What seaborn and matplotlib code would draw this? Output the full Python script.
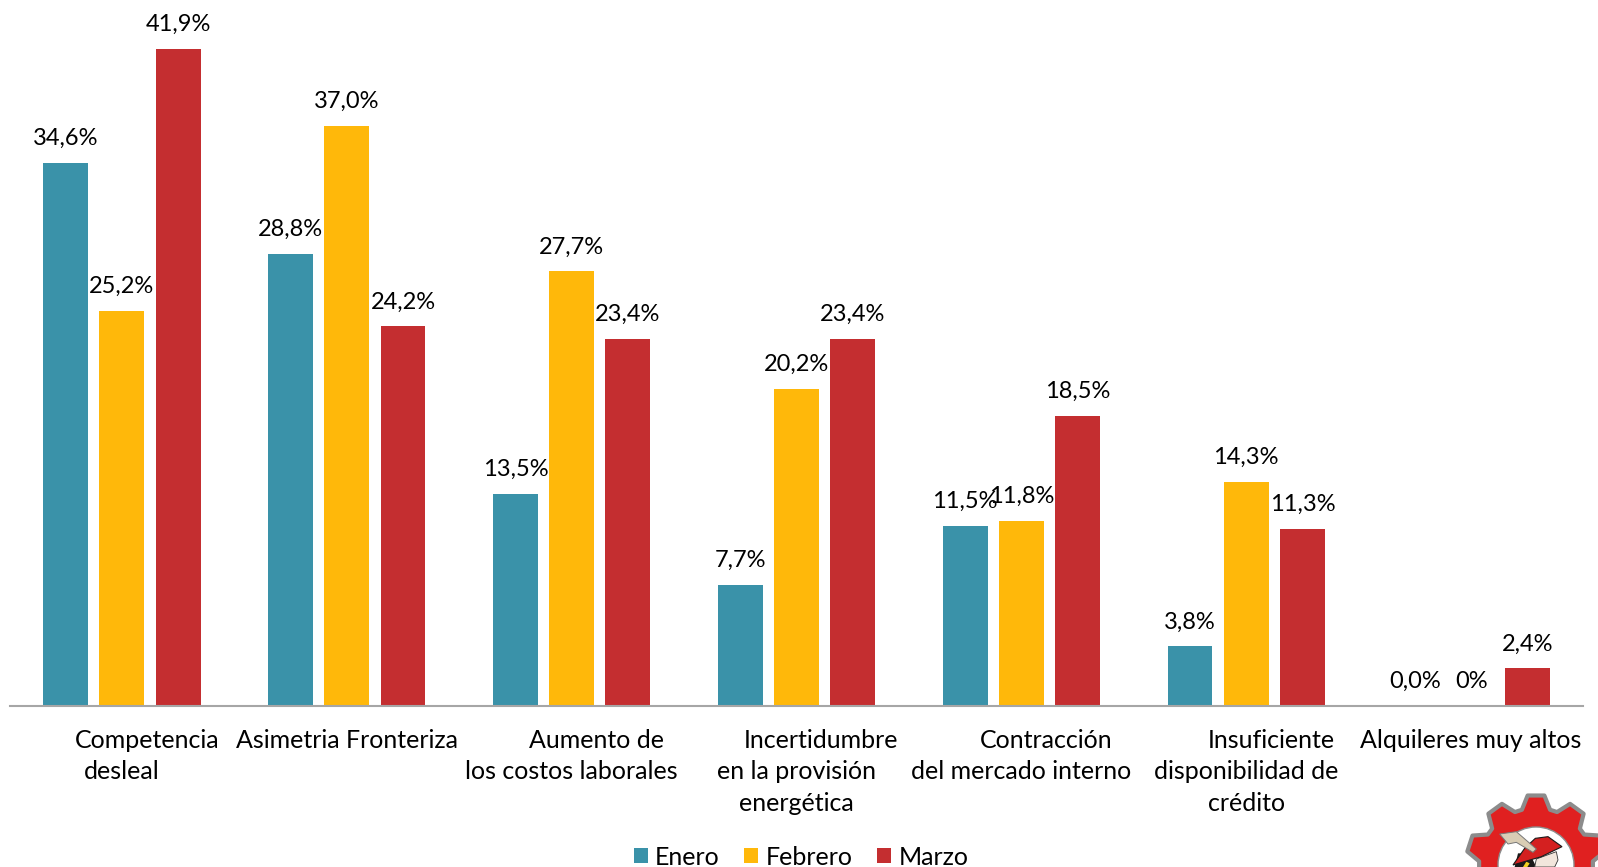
import matplotlib
matplotlib.use("Agg")
import matplotlib.pyplot as plt
import numpy as np
import pandas as pd
import seaborn as sns
from matplotlib.patches import Circle, Polygon

# Datos
categorias = ["Competencia desleal", "Asimetria Fronteriza", "Aumento de los costos laborales",
              "Incertidumbre en la provisión energética", "Contracción del mercado interno",
              "Insuficiente disponibilidad de crédito", "Alquileres muy altos"]
meses = ["Enero", "Febrero", "Marzo"]
enero = [34.6, 28.8, 13.5, 7.7, 11.5, 3.8, 0.0]
febrero = [25.2, 37.0, 27.7, 20.2, 11.8, 14.3, 0.0]
marzo = [41.9, 24.2, 23.4, 23.4, 18.5, 11.3, 2.4]
etiquetas_enero = ["34,6%", "28,8%", "13,5%", "7,7%", "11,5%", "3,8%", "0,0%"]
etiquetas_febrero = ["25,2%", "37,0%", "27,7%", "20,2%", "11,8%", "14,3%", "0%"]
etiquetas_marzo = ["41,9%", "24,2%", "23,4%", "23,4%", "18,5%", "11,3%", "2,4%"]
colores = ["#3A92A9", "#FFB80A", "#C42E30"]

# Cada eje: lineas del rotulo, la primera va corrida como en el original
rotulos = [["Competencia", "desleal"], ["Asimetria Fronteriza"], ["Aumento de", "los costos laborales"],
           ["Incertidumbre", "en la provisión", "energética"], ["Contracción", "del mercado interno"],
           ["Insuficiente", "disponibilidad de", "crédito"], ["Alquileres muy altos"]]

W, H = 1598, 867
plt.rcParams["font.family"] = ["Lato", "DejaVu Sans"]

df = pd.DataFrame({"Categoria": categorias * 3,
                   "Mes": np.repeat(meses, len(categorias)),
                   "Valor": enero + febrero + marzo})

fig = plt.figure(figsize=(W / 100, H / 100), dpi=100)
ax = fig.add_axes([9.5 / W, (H - 706) / H, (1583.5 - 9.5) / W, 706 / H])
sns.barplot(data=df, x="Categoria", y="Valor", hue="Mes", palette=colores, hue_order=meses,
            width=0.75, gap=0.2, saturation=1, ax=ax)
ax.set_xlim(-0.5, 6.5)
ax.set_ylim(0, 45.0)
ax.set_xlabel("")
ax.set_ylabel("")
ax.set_yticks([])
ax.set_xticks(range(len(categorias)))
ax.set_xticklabels([])
ax.tick_params(axis="x", length=0)
for lado in ["top", "left", "right"]:
    ax.spines[lado].set_visible(False)
ax.spines["bottom"].set_color("#A6A6A6")
ax.spines["bottom"].set_linewidth(1.5)

for cont, etiquetas in zip(ax.containers, [etiquetas_enero, etiquetas_febrero, etiquetas_marzo]):
    ax.bar_label(cont, labels=etiquetas, padding=10, fontsize=17, color="black", clip_on=False)

# rotulos del eje x linea por linea
for i, lineas in enumerate(rotulos):
    varias = len(lineas) > 1
    for j, linea in enumerate(lineas):
        dx = 0
        if varias:
            dx = 18 if j == 0 else 0
        ax.annotate(linea, xy=(i, 0), xycoords=("data", "axes fraction"),
                    xytext=(dx, -25 - j * 22.5), textcoords="offset points",
                    ha="center", va="center", fontsize=18, color="black", annotation_clip=False)

sns.move_legend(ax, "lower center", bbox_to_anchor=(801 / W, -0.002), bbox_transform=fig.transFigure,
                ncol=3, frameon=False, title=None, fontsize=18, handlelength=0.55, handleheight=0.55,
                handletextpad=0.3, columnspacing=0.98, borderpad=0, borderaxespad=0)

# logo de la esquina: engranaje recortado por el borde
logo = fig.add_axes([0, 0, 1, 1], facecolor="none")
logo.set_xlim(0, W)
logo.set_ylim(H, 0)
logo.axis("off")
cx, cy = 1536, 865
ang, rad = [], []
for k in range(10):
    base = -np.pi / 2 + k * 2 * np.pi / 10
    for da, r in [(-0.25, 57), (-0.12, 70), (0.12, 70), (0.25, 57)]:
        ang.append(base + da)
        rad.append(r)
gear = np.column_stack([cx + np.array(rad) * np.cos(ang), cy + np.array(rad) * np.sin(ang)])
logo.add_patch(Polygon(gear, closed=True, facecolor="#E02020", edgecolor="#8C8C8C", linewidth=3, joinstyle="round"))
logo.add_patch(Circle((cx, cy), 38, facecolor="white", edgecolor="#8C8C8C", linewidth=1))


def recorte(puntos):
    # puntos medidos sobre el recorte ampliado 3x del logo
    return [(1458 + x / 3, 785 + y / 3) for x, y in puntos]


logo.add_patch(Polygon(recorte([(170, 246), (180, 205), (215, 205), (235, 246)]), closed=True, facecolor="#1A1A1A", edgecolor="none"))
logo.add_patch(Polygon(recorte([(230, 246), (235, 222), (295, 200), (300, 225), (290, 246)]), closed=True, facecolor="#F2E6DC", edgecolor="#333333", linewidth=0.6))
logo.add_patch(Polygon(recorte([(195, 246), (205, 230), (215, 235), (208, 246)]), closed=True, facecolor="#F0D020", edgecolor="none"))
logo.add_patch(Polygon(recorte([(165, 240), (200, 190), (232, 160), (270, 155), (312, 185), (250, 215)]), closed=True, facecolor="#D42020", edgecolor="#1A1A1A", linewidth=0.8))
logo.add_patch(Polygon(recorte([(125, 147), (175, 140), (235, 192), (225, 202), (175, 172), (150, 177)]), closed=True, facecolor="#D9CDB5", edgecolor="#777777", linewidth=0.7))

fig.savefig("out.png", dpi=100, facecolor="white")
